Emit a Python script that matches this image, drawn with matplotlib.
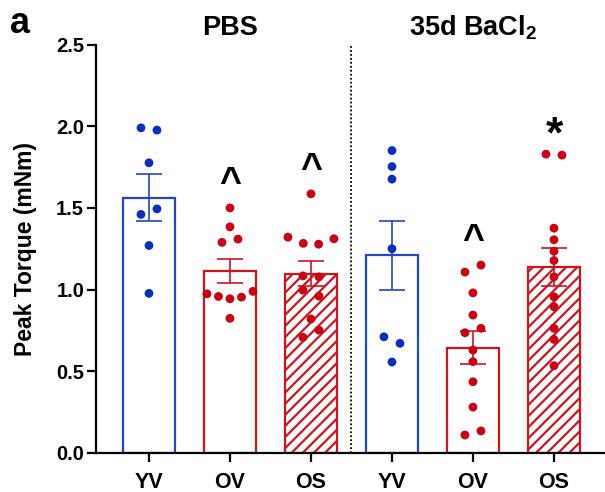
import numpy as np
import matplotlib
matplotlib.use("Agg")
import matplotlib.pyplot as plt

# ---------------- data ----------------
categories = ["YV", "OV", "OS", "YV", "OV", "OS"]
conditions = ["PBS", "35d BaCl$_\\mathregular{2}$"]

pbs_yv = [1.99, 1.976, 1.776, 1.46, 1.494, 1.27, 0.977]
pbs_ov = [1.50, 1.384, 1.289, 1.309, 0.974, 0.958, 0.944, 0.954, 0.989, 0.824]
pbs_os = [1.586, 1.321, 1.283, 1.278, 1.311, 1.084, 1.078, 0.997, 0.96, 0.82, 0.708, 0.752]
ba_yv = [1.851, 1.753, 1.676, 1.25, 0.711, 0.671, 0.557]
ba_ov = [1.107, 1.15, 0.98, 0.844, 0.736, 0.763, 0.63, 0.559, 0.436, 0.281, 0.11, 0.135]
ba_os = [1.829, 1.823, 1.376, 1.305, 1.235, 1.178, 1.078, 0.956, 0.895, 0.763, 0.695, 0.534]

groups = [pbs_yv, pbs_ov, pbs_os, ba_yv, ba_ov, ba_os]
annotations = ["", "^", "^", "", "^", "*"]

# ---------------- style ----------------
BLUE_DOT = "#0a2fbd"
BLUE_EDGE = "#2444cc"
RED_DOT = "#cc0011"
RED_EDGE = "#d0141f"
dot_colors = [BLUE_DOT, RED_DOT, RED_DOT, BLUE_DOT, RED_DOT, RED_DOT]
edge_colors = [BLUE_EDGE, RED_EDGE, RED_EDGE, BLUE_EDGE, RED_EDGE, RED_EDGE]
hatched = [False, False, True, False, False, True]

FONT = "Liberation Sans"
plt.rcParams["font.family"] = [FONT, "DejaVu Sans"]
plt.rcParams["font.weight"] = "bold"
plt.rcParams["mathtext.default"] = "bf"
plt.rcParams["hatch.linewidth"] = 1.6

W, H = 605, 492
fig = plt.figure(figsize=(W / 100, H / 100), dpi=100)
ax_l, ax_b = 96 / W, (H - 453) / H
ax_w, ax_h = (W - 96) / W, (453 - 44.5) / H
ax = fig.add_axes([ax_l, ax_b, ax_w, ax_h])

YMAX = 2.5
x = np.arange(len(categories))
bar_w = 0.64
xlim = (-0.654, 5.63)
ax.set_xlim(*xlim)
ax.set_ylim(0, YMAX)

px_per_x = (W - 96) / (xlim[1] - xlim[0])
px_per_y = (453 - 44.5) / YMAX


def swarm_offsets(vals, row_thresh_px=8.0, spacing_px=16.0, max_width_px=46.0):
    vals = np.asarray(vals, dtype=float)
    order = np.argsort(-vals, kind="stable")
    offsets = np.zeros(len(vals))
    i = 0
    while i < len(order):
        row = [order[i]]
        j = i + 1
        while j < len(order) and (vals[order[i]] - vals[order[j]]) * px_per_y < row_thresh_px:
            row.append(order[j])
            j += 1
        row = sorted(row)
        n = len(row)
        if n > 1:
            sp = min(spacing_px, max_width_px / (n - 1))
            offs = (np.arange(n) - (n - 1) / 2) * sp
            for k, idx in enumerate(row):
                offsets[idx] = offs[k] / px_per_x
        i = j
    return offsets


for i, vals in enumerate(groups):
    v = np.asarray(vals)
    mean = v.mean()
    sem = v.std(ddof=1) / np.sqrt(len(v))
    ax.bar(x[i], mean, width=bar_w, facecolor="white", edgecolor=edge_colors[i],
           linewidth=1.6, hatch="///" if hatched[i] else None, zorder=2)
    ax.errorbar(x[i], mean, yerr=sem, fmt="none", ecolor=edge_colors[i],
                elinewidth=1.2, capsize=9.6, capthick=1.2, zorder=3)
    ax.scatter(x[i] + swarm_offsets(v), v, s=40, color=dot_colors[i],
               edgecolors="none", zorder=4, clip_on=False)
    if annotations[i]:
        if annotations[i] == "^":
            ax.annotate("^", (x[i], v.max() + 0.19), ha="center", va="center",
                        fontsize=27, fontweight="bold", xytext=(0, -5),
                        textcoords="offset points")
        else:
            ax.annotate("*", (x[i], v.max() + 0.19), ha="center", va="center",
                        fontsize=32, fontweight="bold", xytext=(0, -9),
                        textcoords="offset points")

# divider
ax.plot([2.5, 2.5], [0, YMAX], linestyle=(0, (1, 1.2)), color="black",
        linewidth=1.3, zorder=1)

# axes styling
for s in ["top", "right"]:
    ax.spines[s].set_visible(False)
for s in ["left", "bottom"]:
    ax.spines[s].set_linewidth(1.6)
ax.set_xticks(x)
ax.set_xticklabels(categories, fontsize=15.5, fontweight="bold")
yt = np.arange(0, 2.51, 0.5)
ax.set_yticks(yt)
ax.set_yticklabels([f"{t:.1f}" for t in yt], fontsize=14.5, fontweight="bold")
ax.tick_params(axis="both", direction="out", width=1.6, length=6.5)
ax.tick_params(axis="x", pad=7)
ax.tick_params(axis="y", pad=2)
ax.set_ylabel("Peak Torque (mNm)", fontsize=16.5, fontweight="bold", labelpad=14)

# condition titles
for ci, cond in enumerate(conditions):
    xc = x[1 + 3 * ci]
    ax.text(xc, 1.0 + 9.5 / (453 - 44.5), cond, transform=ax.get_xaxis_transform(),
            ha="center", va="baseline", fontsize=19.5, fontweight="bold")

fig.text(10 / W, 1 - 33 / H, "a", fontsize=26, fontweight="bold", ha="left",
         va="baseline")

fig.savefig("out.png", dpi=100)
